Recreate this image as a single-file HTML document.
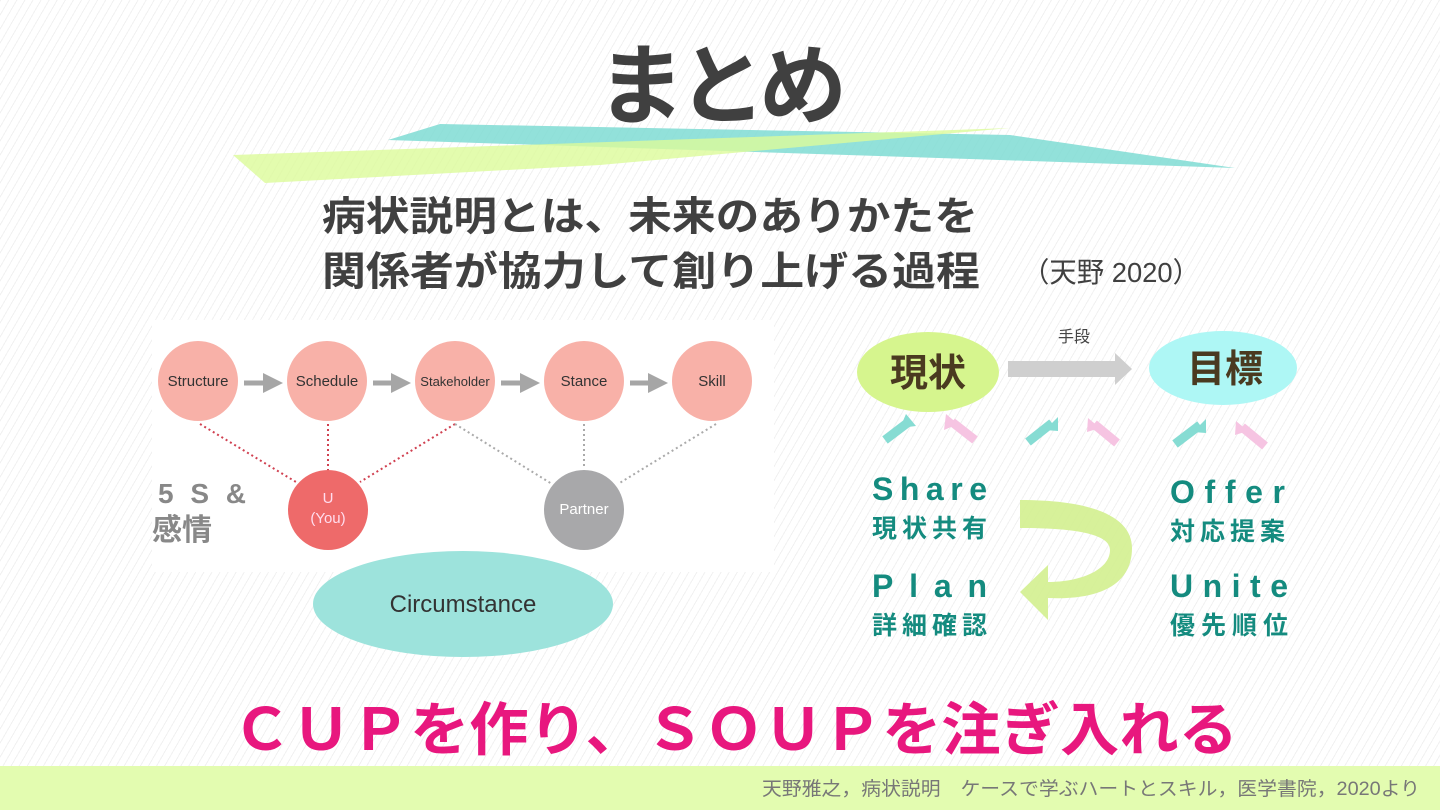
<!DOCTYPE html>
<html><head><meta charset="utf-8"><style>
html,body{margin:0;padding:0;}
body{width:1440px;height:810px;overflow:hidden;background:#fff;position:relative;
background-image:repeating-linear-gradient(-60deg,#fff 0 6px,#f1f1f1 6px 7px);}
svg{position:absolute;left:0;top:0;}
text{font-family:"Liberation Sans","Noto Sans CJK JP",sans-serif;}
</style></head><body>
<svg width="1440" height="810" viewBox="0 0 1440 810">
<defs>
<marker id="ag" markerWidth="4" markerHeight="4" refX="2" refY="2" orient="auto" markerUnits="strokeWidth"><path d="M0,0 L4,2 L0,4z" fill="#a6a6a6"/></marker>
</defs>
<!-- title -->
<text x="722" y="117" font-size="88" font-weight="bold" fill="#404040" text-anchor="middle" textLength="250" lengthAdjust="spacing">まとめ</text>
<polygon points="388,140 440,124 1010,135 1235,168 1000,160" fill="#7fdcd3" opacity="0.85"/>
<polygon points="233,155 1010,128 600,165 265,183" fill="#dcfb9a" opacity="0.8"/>
<text x="322" y="230" font-size="40" font-weight="bold" fill="#404040" textLength="656" lengthAdjust="spacingAndGlyphs">病状説明とは、未来のありかたを</text>
<text x="322" y="285" font-size="40" font-weight="bold" fill="#404040" textLength="658" lengthAdjust="spacingAndGlyphs">関係者が協力して創り上げる過程</text>
<text x="1022" y="282" font-size="28" fill="#404040" textLength="178" lengthAdjust="spacingAndGlyphs">（天野 2020）</text>
<!-- left diagram panel -->
<rect x="152" y="320" width="622" height="252" fill="#fff"/>
<g stroke-dasharray="2,3" stroke-width="2" fill="none">
<line x1="200" y1="424" x2="296" y2="482" stroke="#d04050"/>
<line x1="328" y1="424" x2="328" y2="472" stroke="#d04050"/>
<line x1="455" y1="424" x2="360" y2="482" stroke="#d04050"/>
<line x1="455" y1="424" x2="552" y2="484" stroke="#aaa"/>
<line x1="584" y1="424" x2="584" y2="468" stroke="#aaa"/>
<line x1="716" y1="424" x2="618" y2="484" stroke="#aaa"/>
</g>
<g fill="#f8b1a8">
<ellipse cx="198" cy="381" rx="40" ry="40"/>
<ellipse cx="327" cy="381" rx="40" ry="40"/>
<ellipse cx="455" cy="381" rx="40" ry="40"/>
<ellipse cx="584" cy="381" rx="40" ry="40"/>
<ellipse cx="712" cy="381" rx="40" ry="40"/>
</g>
<g stroke="#a6a6a6" stroke-width="5" marker-end="url(#ag)">
<line x1="244" y1="383" x2="273" y2="383"/>
<line x1="373" y1="383" x2="401" y2="383"/>
<line x1="501" y1="383" x2="530" y2="383"/>
<line x1="630" y1="383" x2="658" y2="383"/>
</g>
<g font-size="15" fill="#333" text-anchor="middle">
<text x="198" y="386">Structure</text>
<text x="327" y="386">Schedule</text>
<text x="455" y="386" font-size="13">Stakeholder</text>
<text x="584" y="386">Stance</text>
<text x="712" y="386">Skill</text>
</g>
<ellipse cx="328" cy="510" rx="40" ry="40" fill="#ee6a6a"/>
<text x="328" y="503" font-size="15" fill="#fde" text-anchor="middle">U</text>
<text x="328" y="523" font-size="15" fill="#fde" text-anchor="middle">(You)</text>
<ellipse cx="584" cy="510" rx="40" ry="40" fill="#a8a8aa"/>
<text x="584" y="514" font-size="15" fill="#fff" text-anchor="middle">Partner</text>
<text x="158" y="503" font-size="28" font-weight="bold" fill="#888" textLength="88" lengthAdjust="spacing">5 S &amp;</text>
<text x="152" y="540" font-size="30" font-weight="bold" fill="#888">感情</text>
<ellipse cx="463" cy="604" rx="150" ry="53" fill="#9de3dc"/>
<text x="463" y="612" font-size="24" fill="#333" text-anchor="middle" font-family="Liberation Mono,monospace">Circumstance</text>
<!-- right diagram -->
<ellipse cx="928" cy="372" rx="71" ry="40" fill="#d6f58e"/>
<text x="928" y="386" font-size="38" font-weight="bold" fill="#4a3a20" text-anchor="middle">現状</text>
<ellipse cx="1223" cy="368" rx="74" ry="37" fill="#aef7f5"/>
<text x="1225" y="382" font-size="38" font-weight="bold" fill="#4a3a20" text-anchor="middle">目標</text>
<text x="1074" y="342" font-size="16" fill="#444" text-anchor="middle">手段</text>
<polygon points="1008,361 1115,361 1115,353 1132,369 1115,385 1115,377 1008,377" fill="#cfcfcf"/>
<g stroke-width="9">
<line x1="885" y1="440" x2="910" y2="421" stroke="#86dcd3"/>
<line x1="975" y1="440" x2="952" y2="422" stroke="#f6c4e2"/>
<line x1="1028" y1="442" x2="1052" y2="423" stroke="#86dcd3"/>
<line x1="1117" y1="443" x2="1094" y2="424" stroke="#f6c4e2"/>
<line x1="1175" y1="444" x2="1200" y2="425" stroke="#86dcd3"/>
<line x1="1265" y1="446" x2="1242" y2="427" stroke="#f6c4e2"/>
</g>
<g>
<polygon points="906,414 916,426 900,428" fill="#86dcd3"/>
<polygon points="946,414 944,430 958,424" fill="#f6c4e2"/>
<polygon points="1058,417 1058,431 1045,430" fill="#86dcd3"/>
<polygon points="1088,418 1087,432 1100,428" fill="#f6c4e2"/>
<polygon points="1206,419 1206,433 1193,432" fill="#86dcd3"/>
<polygon points="1236,421 1235,435 1248,431" fill="#f6c4e2"/>
</g>
<path d="M1020,500 C1100,500 1132,520 1132,548 C1132,590 1090,600 1048,598 L1048,620 L1020,592 L1048,565 L1048,582 C1080,582 1110,570 1110,550 C1110,535 1080,528 1020,528 Z" fill="#d3f08f" opacity="0.9"/>
<g fill="#148b7f" font-weight="bold">
<text x="872" y="500" font-size="32" textLength="115" lengthAdjust="spacing" font-family="Liberation Mono,monospace">Share</text>
<text x="872" y="537" font-size="25" textLength="115" lengthAdjust="spacing">現状共有</text>
<text x="872" y="597" font-size="32" textLength="115" lengthAdjust="spacing" font-family="Liberation Mono,monospace">Plan</text>
<text x="872" y="634" font-size="25" textLength="115" lengthAdjust="spacing">詳細確認</text>
<text x="1170" y="503" font-size="32" textLength="115" lengthAdjust="spacing" font-family="Liberation Mono,monospace">Offer</text>
<text x="1170" y="540" font-size="25" textLength="115" lengthAdjust="spacing">対応提案</text>
<text x="1170" y="597" font-size="32" textLength="118" lengthAdjust="spacing" font-family="Liberation Mono,monospace">Unite</text>
<text x="1170" y="634" font-size="25" textLength="118" lengthAdjust="spacing">優先順位</text>
</g>
<text x="232" y="750" font-size="58" font-weight="bold" fill="#e8177e" textLength="1006" lengthAdjust="spacingAndGlyphs">ＣＵＰを作り、ＳＯＵＰを注ぎ入れる</text>
<rect x="0" y="766" width="1440" height="44" fill="#e3fcb0"/>
<text x="1420" y="795" font-size="19" fill="#777" text-anchor="end" textLength="658" lengthAdjust="spacingAndGlyphs">天野雅之，病状説明　ケースで学ぶハートとスキル，医学書院，2020より</text>
</svg>
</body></html>
